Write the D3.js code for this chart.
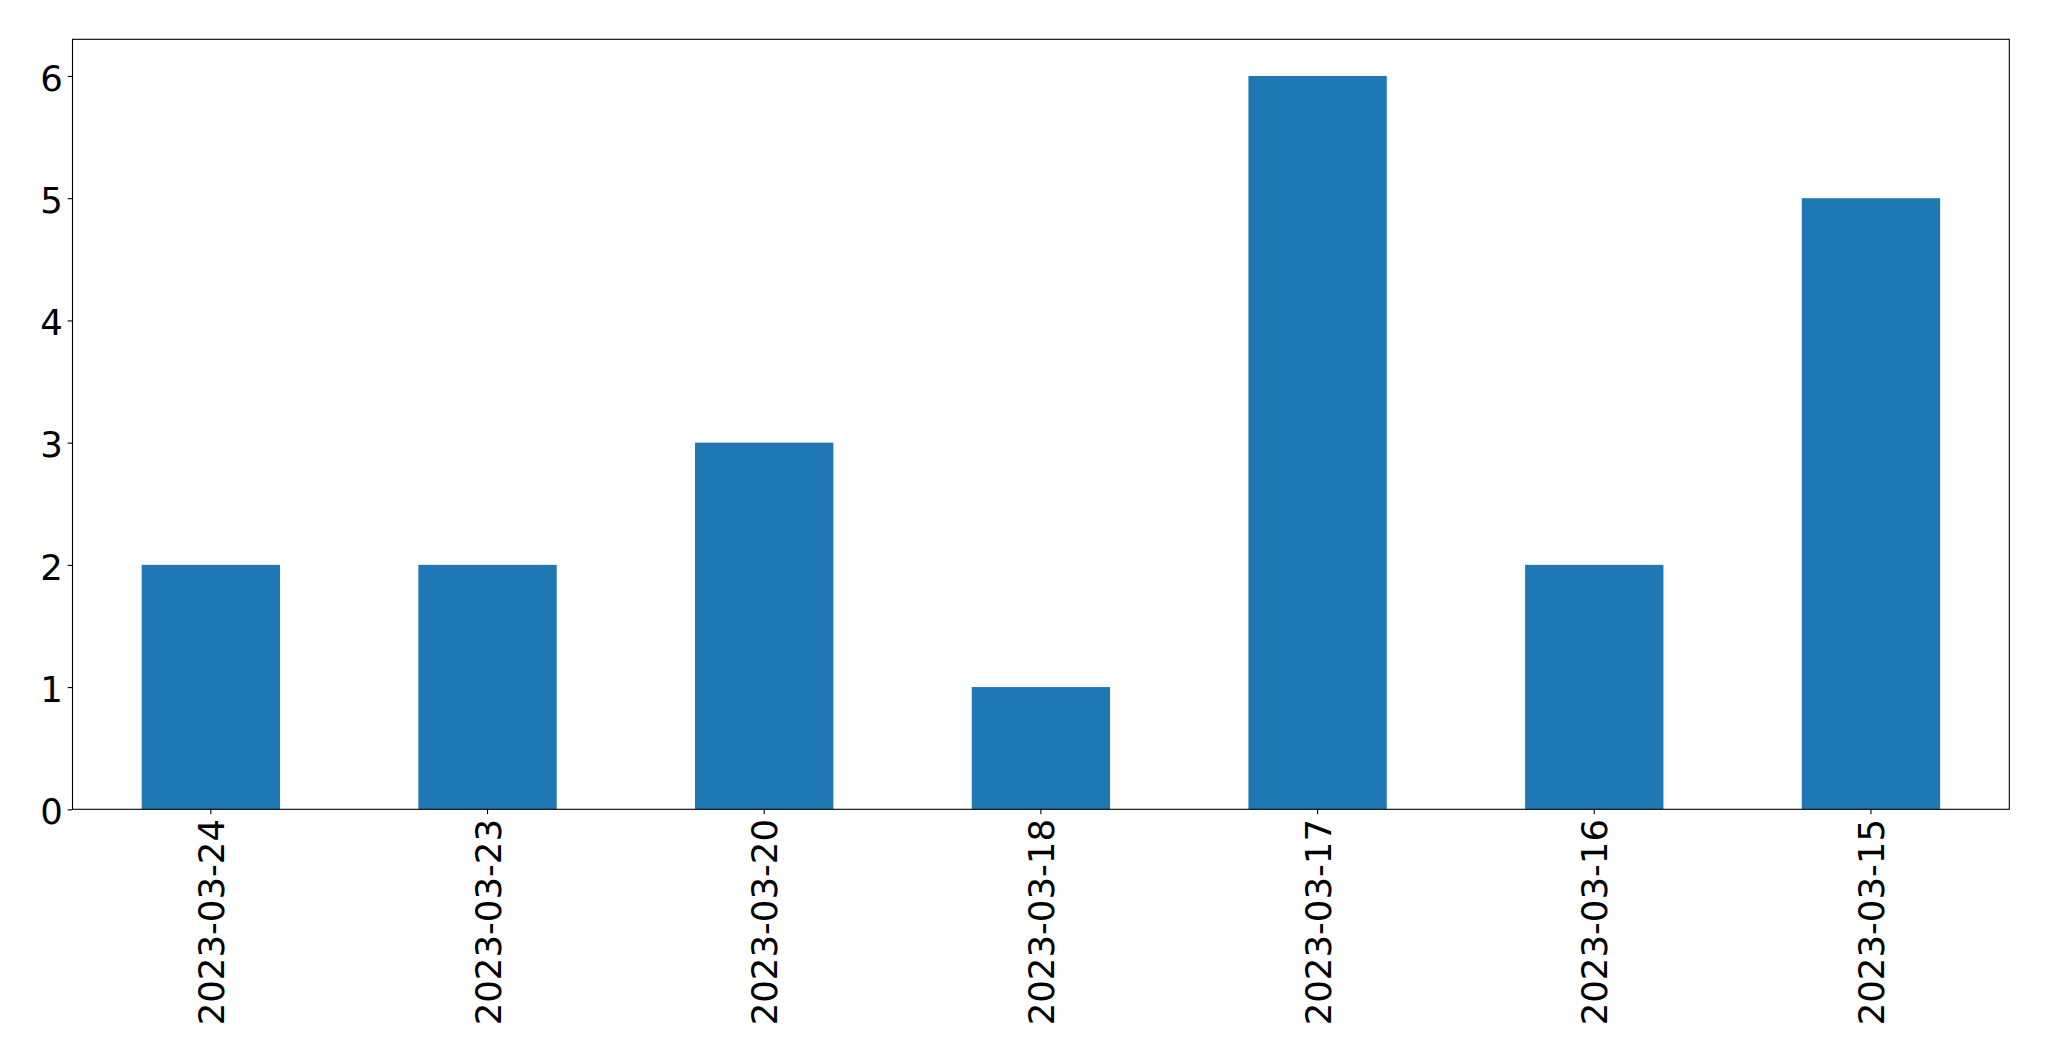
<!DOCTYPE html>
<html><head><meta charset="utf-8">
<script src="https://cdn.jsdelivr.net/npm/d3@7"></script>
<style>body{margin:0;background:#fff}svg{display:block}</style>
</head><body>
<script>
const categories = ["2023-03-24","2023-03-23","2023-03-20","2023-03-18","2023-03-17","2023-03-16","2023-03-15"];
const values = [2,2,3,1,6,2,5];
const yTicks = [0,1,2,3,4,5,6];

const W = 2049, H = 1061;
const m = {left:72.5, right:2049-2009.3, top:39.3, bottom:1061-809.3};
const svg = d3.select("body").append("svg").attr("width",W).attr("height",H);
const x = d3.scaleBand().domain(categories).range([m.left, W-m.right]).paddingInner(0.5).paddingOuter(0.25);
const y = d3.scaleLinear().domain([0, d3.max(values)*1.05]).range([H-m.bottom, m.top]);

svg.append("g").selectAll("rect").data(values).join("rect")
  .attr("x",(d,i)=>x(categories[i])).attr("width",x.bandwidth())
  .attr("y",d=>y(d)).attr("height",d=>y(0)-y(d)).attr("fill","#1f77b4");

const font = "DejaVu Sans";
const fs = "35.5px";
const xa = svg.append("g").attr("transform",`translate(0,${H-m.bottom})`)
  .call(d3.axisBottom(x).tickSize(4.86).tickPadding(4.86).tickSizeOuter(0));
xa.select(".domain").remove();
xa.selectAll("line").attr("stroke","#000").attr("stroke-width",1.1);
xa.selectAll("text").attr("font-family",font).attr("font-size",fs).attr("fill","#000")
  .attr("text-anchor","end").attr("transform","rotate(-90)")
  .attr("x",-9.7).attr("y",0).attr("dy","0.37em");

const ya = svg.append("g").attr("transform",`translate(${m.left},0)`)
  .call(d3.axisLeft(y).tickValues(yTicks).tickFormat(d3.format("d")).tickSize(4.86).tickPadding(4.86).tickSizeOuter(0));
ya.select(".domain").remove();
ya.selectAll("line").attr("stroke","#000").attr("stroke-width",1.1);
ya.selectAll("text").attr("font-family",font).attr("font-size",fs).attr("fill","#000").attr("dy","0.4em");

svg.append("rect").attr("x",m.left).attr("y",m.top).attr("width",W-m.right-m.left).attr("height",H-m.bottom-m.top)
  .attr("fill","none").attr("stroke","#000").attr("stroke-width",1.1);
</script>
</body></html>
